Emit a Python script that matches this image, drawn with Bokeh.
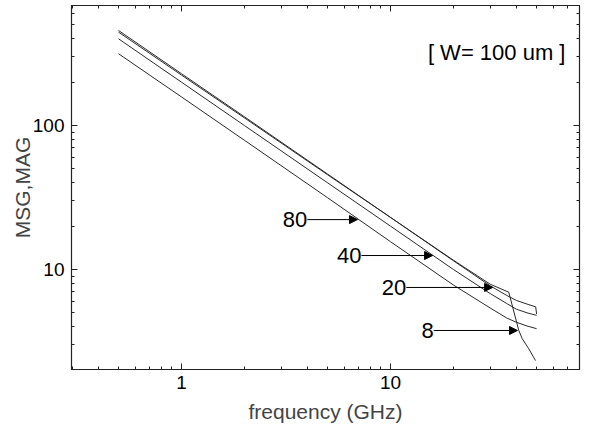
from bokeh.plotting import figure
from bokeh.models import (LogAxis, Range1d, Label, Arrow, NormalHead, FixedTicker,
                          ColumnDataSource)
from bokeh.embed import file_html
from bokeh.resources import INLINE
from bokeh.core.properties import value

# ---- data ----
freq_w8 = [0.5, 1, 2, 5, 10, 20, 30, 36.8, 41.1, 42.7, 45.9, 49.4]
msg_w8 = [445, 224, 113, 45.5, 23, 11.6, 7.9, 6.95, 3.77, 3.3, 2.81, 2.33]

freq_w20 = [0.5, 1, 2, 5, 10, 20, 30, 36, 40, 45, 49.5, 50]
msg_w20 = [457, 229, 115, 46, 23, 11.5, 7.7, 6.6, 6.1, 5.75, 5.5, 4.9]

freq_w40 = [0.5, 1, 2, 5, 10, 20, 30, 36, 40, 45, 50]
msg_w40 = [400, 200, 100, 40, 20, 10, 6.8, 5.8, 5.3, 5.0, 4.8]

freq_w80 = [0.5, 1, 2, 5, 10, 20, 30, 36, 40, 45, 50]
msg_w80 = [315, 158, 79, 31.5, 15.6, 7.8, 5.4, 4.6, 4.3, 4.05, 3.88]

# annotation arrows (label, start x, end x, y)
arrow_labels = ["80", "40", "20", "8"]
arrow_x_start = [4.0, 7.26, 11.9, 16.1]
arrow_x_end = [6.95, 15.9, 30.8, 40.5]
arrow_y = [22.2, 12.5, 7.5, 3.77]

x_major_ticks = [1, 10]
y_major_ticks = [10, 100]
x_tick_labels = {1: "1", 10: "10"}
y_tick_labels = {10: "10", 100: "100"}

note_text = "[ W= 100 um ]"

FONT = "Liberation Sans"

x_minor = [d * m for d in (0.1, 1, 10) for m in range(2, 10) if 0.3 <= d * m <= 80]
y_minor = [d * m for d in (1, 10, 100) for m in range(2, 10) if 2 <= d * m <= 680]

p = figure(width=585, height=435, x_axis_type="log", y_axis_type="log",
           x_range=Range1d(0.298, 80.2), y_range=Range1d(2.02, 681),
           output_backend="svg", toolbar_location=None,
           min_border_left=71, min_border_right=6, min_border_top=5,
           min_border_bottom=66)
p.xgrid.visible = False
p.ygrid.visible = False
p.outline_line_color = "#222222"
p.outline_line_width = 1.2
p.background_fill_color = "white"
p.border_fill_color = "white"

line_color = "#2a2a2a"
for fx, my in [(freq_w80, msg_w80), (freq_w40, msg_w40),
               (freq_w20, msg_w20), (freq_w8, msg_w8)]:
    p.line(fx, my, line_color=line_color, line_width=1)

# arrows and labels
src = ColumnDataSource(dict(x0=arrow_x_start, x1=arrow_x_end, y=arrow_y,
                            t=arrow_labels))
p.add_layout(Arrow(end=NormalHead(size=8, fill_color="black", line_color="black"),
                   x_start="x0", y_start="y", x_end="x1", y_end="y",
                   source=src, line_color="black", line_width=1))
p.text(x="x0", y="y", text="t", source=src, text_align="right",
       text_baseline="middle", text_font=value(FONT), text_font_size="22px",
       text_color="black", x_offset=0)

p.add_layout(Label(x=68.7, y=321, text=note_text, text_align="right",
                   text_baseline="middle", text_font=FONT,
                   text_font_size="22px", text_color="black"))


def style_axis(ax, ticks, minor, overrides, show_labels=True):
    ax.ticker = FixedTicker(ticks=ticks, minor_ticks=minor)
    ax.major_tick_in = 6
    ax.major_tick_out = 0
    ax.minor_tick_in = 3
    ax.minor_tick_out = 0
    ax.axis_line_color = "#222222"
    ax.major_tick_line_color = "#222222"
    ax.minor_tick_line_color = "#222222"
    ax.major_label_text_font = FONT
    ax.major_label_text_color = "black"
    if show_labels:
        ax.major_label_overrides = overrides
        ax.major_label_text_font_size = "19px"
    else:
        ax.major_label_overrides = {k: " " for k in overrides}
        ax.major_label_text_font_size = "1px"
        ax.major_label_text_alpha = 0
        ax.major_label_standoff = 0


xa = p.xaxis[0]
style_axis(xa, x_major_ticks, x_minor, x_tick_labels)
xa.major_label_standoff = 6
xa.axis_label = "frequency (GHz)"
xa.axis_label_text_font = FONT
xa.axis_label_text_font_size = "21px"
xa.axis_label_text_font_style = "normal"
xa.axis_label_standoff = 8

ya = p.yaxis[0]
style_axis(ya, y_major_ticks, y_minor, y_tick_labels)
ya.major_label_standoff = 7
ya.axis_label = "MSG,MAG"
ya.axis_label_text_font = FONT
ya.axis_label_text_font_size = "21px"
ya.axis_label_text_font_style = "normal"
ya.axis_label_standoff = -4

top = LogAxis()
style_axis(top, x_major_ticks, x_minor, x_tick_labels, show_labels=False)
p.add_layout(top, "above")
right = LogAxis()
style_axis(right, y_major_ticks, y_minor, y_tick_labels, show_labels=False)
p.add_layout(right, "right")

open("out.html", "w").write(file_html(p, INLINE))
